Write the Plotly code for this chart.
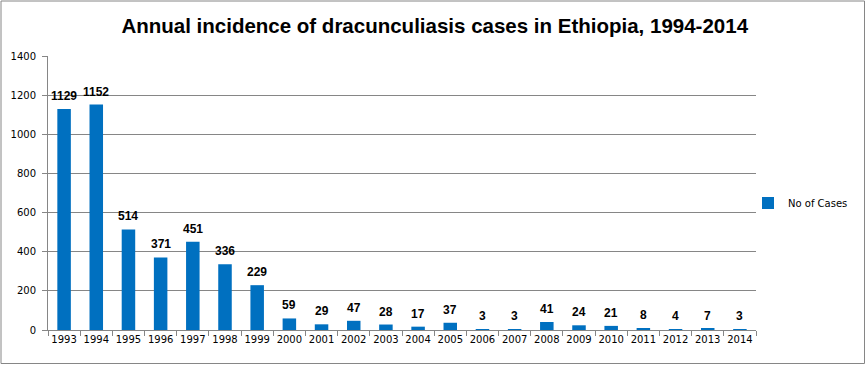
import plotly.graph_objects as go

years = ["1993", "1994", "1995", "1996", "1997", "1998", "1999", "2000", "2001", "2002", "2003",
         "2004", "2005", "2006", "2007", "2008", "2009", "2010", "2011", "2012", "2013", "2014"]
cases = [1129, 1152, 514, 371, 451, 336, 229, 59, 29, 47, 28, 17, 37, 3, 3, 41, 24, 21, 8, 4, 7, 3]
series_name = "No of Cases"
title_text = "Annual incidence of dracunculiasis cases in Ethiopia, 1994-2014"

fig = go.Figure()
fig.add_trace(go.Bar(
    x=years, y=cases, name=series_name,
    marker=dict(color="#0070C0", line=dict(width=0)),
    showlegend=True,
))

W, H = 866, 365
ml, mr, mt, mb = 48, 110, 56, 35
pw, ph = W - ml - mr, H - mt - mb

def px2x(p):
    return (p - ml) / pw

def py2y(p):
    return (H - mb - p) / ph

annotations = [
    dict(x=i, y=v, xref="x", yref="y", text=str(v), showarrow=False,
         yanchor="middle", xanchor="center", yshift=13,
         font=dict(family="Liberation Sans", size=12, color="black", weight="bold"))
    for i, v in enumerate(cases)
]

fig.update_layout(
    width=W, height=H,
    margin=dict(l=ml, r=mr, t=mt, b=mb),
    paper_bgcolor="white", plot_bgcolor="white",
    title=dict(text=title_text, x=0.502, xanchor="center", y=1 - 26 / H, yanchor="middle",
               font=dict(family="Liberation Sans", size=20.5, color="black", weight="bold")),
    bargap=0.58,
    xaxis=dict(type="category", categoryorder="array", categoryarray=years,
               range=[-0.5, len(years) - 0.5],
               tickson="boundaries", ticks="outside", ticklen=5,
               tickcolor="#868686", showline=True, linecolor="#868686", linewidth=1,
               tickangle=0,
               tickfont=dict(family="DejaVu Sans", size=10, color="black"),
               showgrid=False),
    yaxis=dict(range=[0, 1400], dtick=200, ticks="outside", ticklen=5, tickcolor="#868686",
               showline=True, linecolor="#868686", linewidth=1, ticklabelstandoff=4,
               gridcolor="#868686", gridwidth=1, zeroline=False,
               tickfont=dict(family="DejaVu Sans", size=10, color="black")),
    legend=dict(x=px2x(748), y=py2y(203), xanchor="left", yanchor="middle",
                font=dict(family="DejaVu Sans", size=10, color="black"),
                bgcolor="rgba(0,0,0,0)", itemwidth=30),
    annotations=annotations,
    shapes=[dict(type="rect", xref="paper", yref="paper",
                 x0=px2x(1), x1=px2x(864.5), y0=py2y(363.5), y1=py2y(1),
                 line=dict(color="#868686", width=1), fillcolor="rgba(0,0,0,0)", layer="below")],
)

fig.write_html("out.html", post_script="document.body.style.margin='0';",
               config={"displayModeBar": False})
